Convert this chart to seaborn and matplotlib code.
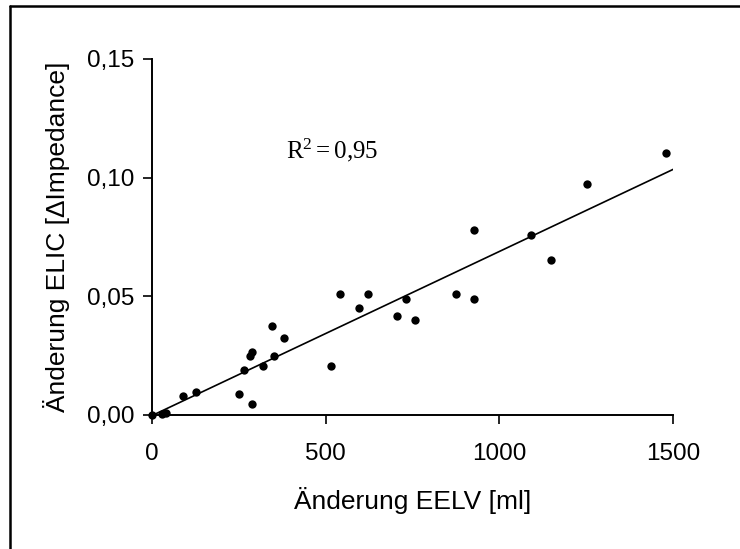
import numpy as np
import pandas as pd
import matplotlib
matplotlib.use("Agg")
import matplotlib.pyplot as plt
from matplotlib.lines import Line2D
import seaborn as sns

# Data
eelv = [0, 28, 39, 90, 126, 251, 264, 281, 287, 288, 321, 345, 350, 379,
        516, 540, 597, 621, 706, 730, 758, 874, 926, 926, 1092, 1150, 1253, 1480]
elic = [0.0000, 0.0005, 0.0008, 0.0081, 0.0098, 0.0090, 0.0191, 0.0249, 0.0048,
        0.0267, 0.0208, 0.0376, 0.0249, 0.0326, 0.0208, 0.0511, 0.0452, 0.0511,
        0.0418, 0.0488, 0.0402, 0.0511, 0.0488, 0.0781, 0.0757, 0.0655, 0.0975, 0.1102]
xticks = [0, 500, 1000, 1500]
yticks = [0.00, 0.05, 0.10, 0.15]
ytick_labels = ["0,00", "0,05", "0,10", "0,15"]
r2_text = r"$\mathrm{R}^{2} = 0{,}95$"

df = pd.DataFrame({"EELV": eelv, "ELIC": elic})

sns.set_theme(style="ticks")
plt.rcParams["font.family"] = ["Liberation Sans", "DejaVu Sans"]
plt.rcParams["mathtext.fontset"] = "custom"
plt.rcParams["mathtext.rm"] = "Liberation Serif"
plt.rcParams["mathtext.it"] = "Liberation Serif:italic"

fig = plt.figure(figsize=(7.4, 5.49), dpi=100)
fig.patch.set_facecolor("white")
ax = fig.add_axes([152/740, 1 - 415/549, 521/740, 356/549])

# regression line
slope, intercept = np.polyfit(df["EELV"], df["ELIC"], 1)
xl = np.array([0, 1505])
sns.lineplot(x=xl, y=intercept + slope * xl, ax=ax, color="black", linewidth=1.2)

sns.scatterplot(data=df, x="EELV", y="ELIC", ax=ax, color="black", s=36,
                edgecolor="black", linewidth=0, clip_on=False, zorder=3)

ax.set_xlim(0, 1500)
ax.set_ylim(0, 0.15)
ax.set_xticks(xticks)
ax.set_xticklabels([str(t) for t in xticks])
ax.set_yticks(yticks)
ax.set_yticklabels(ytick_labels)
ax.tick_params(axis="both", direction="out", length=6.5, width=1.2, colors="black",
               labelsize=17.5)
ax.tick_params(axis="x", pad=14)
ax.tick_params(axis="y", pad=6)

for s in ["top", "right"]:
    ax.spines[s].set_visible(False)
for s in ["left", "bottom"]:
    ax.spines[s].set_linewidth(1.4)
    ax.spines[s].set_color("black")

ax.set_xlabel("Änderung EELV [ml]", fontsize=19, color="black")
ax.set_ylabel("Änderung ELIC [ΔImpedance]", fontsize=19, color="black")
ax.yaxis.set_label_coords(-0.157, 0.5)
ax.xaxis.set_label_coords(0.5, -0.202)

ax.text(518, 0.1117, r2_text, fontsize=18, ha="center", va="center", color="black")

# partial frame (top and left) around the figure
fig.add_artist(Line2D([10/740, 10/740], [0, 1 - 6/549], transform=fig.transFigure,
                      color="black", linewidth=1.8))
fig.add_artist(Line2D([10/740, 1], [1 - 6/549, 1 - 6/549], transform=fig.transFigure,
                      color="black", linewidth=1.8))

fig.savefig("out.png", dpi=100, facecolor="white")
